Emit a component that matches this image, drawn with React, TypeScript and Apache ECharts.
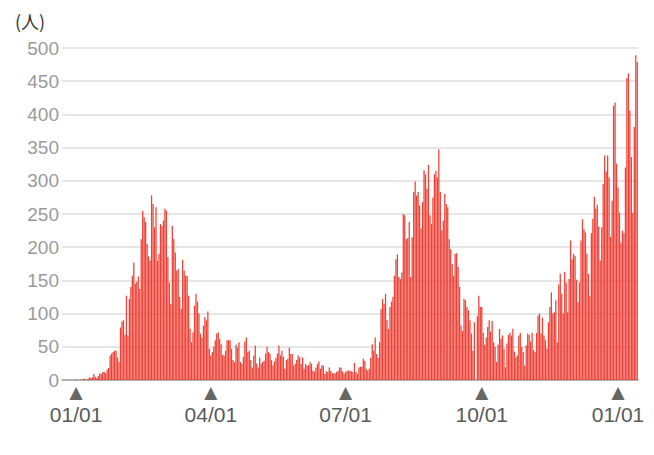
import React, { useEffect, useRef } from 'react';
import * as echarts from 'echarts';

// first category on the axis (empty days before the data begin)
const AXIS_START = '2019-12-23';
// first day of the daily series
const DAILY_START = '2020-01-01';

// daily counts (人), starting 2020-01-01
const cases: number[] = [
  1, 0, 0, 1, 0, 2, 2, 0, 2, 4,
  3, 4, 9, 5, 3, 6, 10, 9, 12, 12,
  10, 16, 18, 37, 40, 42, 44, 44, 34, 27,
  79, 88, 90, 68, 127, 67, 122, 140, 157, 177,
  145, 148, 156, 137, 212, 255, 245, 238, 205, 186,
  180, 278, 265, 230, 260, 180, 190, 235, 232, 240,
  258, 255, 185, 147, 115, 232, 212, 192, 165, 167,
  125, 107, 181, 165, 157, 157, 127, 77, 57, 72,
  112, 130, 118, 100, 70, 64, 82, 95, 90, 103,
  47, 37, 42, 50, 60, 70, 72, 62, 54, 38,
  37, 44, 60, 60, 60, 47, 30, 27, 53, 49,
  57, 27, 24, 35, 58, 64, 42, 44, 30, 19,
  37, 52, 25, 19, 34, 24, 27, 29, 40, 50,
  42, 39, 30, 22, 28, 33, 40, 52, 37, 44,
  35, 17, 30, 32, 49, 39, 39, 22, 24, 30,
  37, 34, 24, 34, 17, 24, 22, 22, 27, 24,
  14, 13, 19, 24, 28, 17, 22, 22, 9, 13,
  12, 19, 14, 10, 10, 10, 12, 14, 19, 19,
  13, 9, 12, 14, 14, 14, 13, 12, 26, 12,
  9, 19, 20, 20, 32, 29, 17, 14, 17, 33,
  54, 44, 64, 39, 33, 57, 107, 122, 115, 130,
  90, 77, 110, 118, 125, 157, 182, 189, 155, 152,
  162, 250, 248, 212, 214, 238, 155, 215, 283, 299,
  278, 283, 263, 228, 268, 316, 310, 288, 324, 248,
  235, 275, 310, 315, 305, 347, 283, 225, 240, 280,
  265, 260, 212, 197, 175, 157, 190, 191, 170, 140,
  82, 74, 122, 120, 110, 105, 90, 70, 44, 87,
  0, 96, 127, 110, 110, 71, 53, 64, 80, 90,
  73, 89, 57, 50, 27, 53, 77, 62, 67, 47,
  19, 55, 68, 71, 67, 77, 43, 34, 37, 67,
  71, 50, 42, 22, 52, 70, 68, 58, 71, 45,
  42, 71, 97, 100, 70, 94, 67, 60, 47, 87,
  110, 132, 100, 102, 120, 57, 144, 160, 130, 100,
  163, 147, 102, 152, 210, 182, 190, 187, 151, 117,
  147, 210, 242, 227, 222, 190, 160, 127, 221, 243,
  276, 258, 264, 231, 180, 230, 295, 338, 314, 338,
  305, 216, 270, 413, 418, 326, 290, 252, 207, 225,
  221, 320, 455, 462, 406, 336, 252, 381, 489, 479,
];

// y axis ticks
const Y_MIN = 0;
const Y_MAX = 500;
const Y_STEP = 50;
// months whose first day gets a labelled marker
const labelMonths = ['01', '04', '07', '10'];
const unitLabel = '(人)';

function isoDay(d: Date): string {
  return d.toISOString().slice(0, 10);
}

function buildDates(start: string, endOffsetFrom: string, count: number): string[] {
  const s = new Date(start + 'T00:00:00Z');
  const e = new Date(endOffsetFrom + 'T00:00:00Z');
  e.setUTCDate(e.getUTCDate() + count - 1);
  const out: string[] = [];
  const cur = new Date(s);
  while (cur <= e) {
    out.push(isoDay(cur));
    cur.setUTCDate(cur.getUTCDate() + 1);
  }
  return out;
}

export default function App() {
  const ref = useRef<HTMLDivElement>(null);

  useEffect(() => {
    if (!ref.current) return;
    const chart = echarts.init(ref.current, null, { renderer: 'svg' });
    const dates = buildDates(AXIS_START, DAILY_START, cases.length);
    const pad = dates.indexOf(DAILY_START);
    const seriesData = dates.map((_, i) => (i < pad ? null : cases[i - pad]));

    chart.setOption({
      animation: false,
      backgroundColor: '#ffffff',
      grid: { left: 62, right: 16, top: 48, bottom: 75, containLabel: false },
      graphic: [
        {
          type: 'text',
          left: 15,
          top: 12,
          style: {
            text: unitLabel,
            fontSize: 18,
            fill: '#333333',
            fontFamily: '"Noto Sans CJK JP", sans-serif',
          },
        },
      ],
      xAxis: {
        type: 'category',
        data: dates,
        boundaryGap: true,
        axisLine: { lineStyle: { color: '#a0a0a0', width: 1.5 } },
        axisTick: { show: false },
        splitLine: { show: false },
        axisLabel: {
          interval: (_idx: number, value: string) =>
            value.slice(8) === '01' && labelMonths.includes(value.slice(5, 7)),
          formatter: (value: string) => `{t|▲}\n{d|${value.slice(5, 7)}/${value.slice(8, 10)}}`,
          margin: 3,
          rich: {
            t: {
              fontFamily: '"DejaVu Sans"',
              fontSize: 17,
              color: '#666666',
              lineHeight: 18,
              align: 'center',
            },
            d: {
              fontFamily: '"Liberation Sans", Arial, sans-serif',
              fontSize: 21,
              color: '#5a5a5a',
              lineHeight: 26,
              align: 'center',
            },
          },
        },
      },
      yAxis: {
        type: 'value',
        min: Y_MIN,
        max: Y_MAX,
        interval: Y_STEP,
        axisLine: { show: false },
        axisTick: { show: false },
        splitLine: { lineStyle: { color: '#e6e6e6', width: 2 } },
        axisLabel: {
          color: '#9a9a9a',
          fontSize: 19,
          margin: 3,
          fontFamily: '"Liberation Sans", Arial, sans-serif',
        },
      },
      series: [
        {
          type: 'bar',
          data: seriesData,
          barCategoryGap: '15%',
          itemStyle: { color: '#ef4136' },
          silent: true,
        },
      ],
    });

    return () => chart.dispose();
  }, []);

  return (
    <div
      ref={ref}
      style={{ position: 'absolute', left: 0, top: 0, width: 654, height: 455 }}
    />
  );
}
